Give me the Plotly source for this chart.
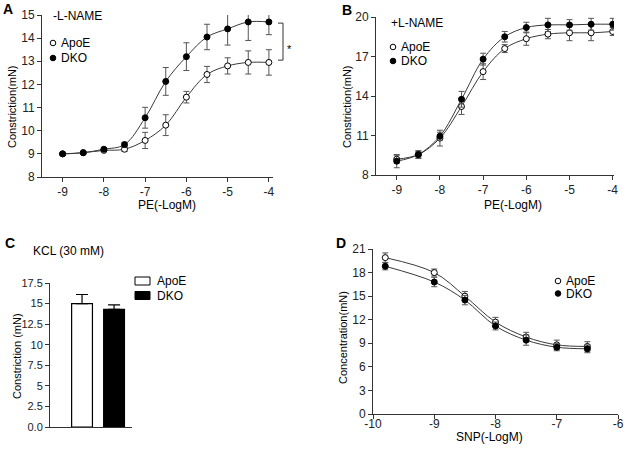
import plotly.graph_objects as go

# ---------------- data ----------------
pe_log = [-9, -8.5, -8, -7.5, -7, -6.5, -6, -5.5, -5, -4.5, -4]
pe_ticks = [-9, -8, -7, -6, -5, -4]

# A: -L-NAME
a_apoe = [9.0, 9.05, 9.15, 9.2, 9.58, 10.24, 11.45, 12.43, 12.8, 12.95, 12.95]
a_apoe_err = [0.05, 0.05, 0.05, 0.1, 0.35, 0.45, 0.25, 0.35, 0.35, 0.5, 0.55]
a_dko = [9.0, 9.05, 9.2, 9.4, 10.56, 12.13, 13.2, 14.05, 14.4, 14.7, 14.7]
a_dko_err = [0.05, 0.05, 0.05, 0.1, 0.45, 0.6, 0.6, 0.55, 0.7, 0.8, 0.55]

# B: +L-NAME
b_apoe = [9.2, 9.55, 10.8, 13.2, 15.85, 17.6, 18.35, 18.7, 18.8, 18.8, 18.9]
b_apoe_err = [0.3, 0.3, 0.6, 0.6, 0.6, 0.3, 0.5, 0.35, 0.6, 0.6, 0.3]
b_dko = [9.05, 9.55, 10.95, 13.75, 16.8, 18.5, 19.2, 19.4, 19.4, 19.45, 19.45]
b_dko_err = [0.5, 0.25, 0.3, 0.6, 0.45, 0.4, 0.4, 0.5, 0.4, 0.45, 0.45]

# C: KCL (30 mM)
kcl_groups = ["ApoE", "DKO"]
kcl_values = [15.0, 14.3]
kcl_err = [1.1, 0.55]
kcl_ticks = [0, 2.5, 5, 7.5, 10, 12.5, 15, 17.5]
kcl_ticktext = ["0.0", "2.5", "5", "7.5", "10", "12.5", "15", "17.5"]

# D: SNP
snp_log = [-9.8, -9, -8.5, -8, -7.5, -7, -6.5]
snp_ticks = [-10, -9, -8, -7, -6]
d_apoe = [19.9, 18.0, 15.0, 11.7, 9.8, 8.8, 8.6]
d_apoe_err = [0.6, 0.45, 0.6, 0.6, 0.6, 0.6, 0.6]
d_dko = [18.8, 16.8, 14.5, 11.2, 9.4, 8.5, 8.3]
d_dko_err = [0.45, 0.6, 0.6, 0.5, 0.65, 0.45, 0.5]

# significance bracket in A spans the two plateaus
bracket_top, bracket_bottom = 14.65, 13.05

# ---------------- layout helpers ----------------
W, H = 626, 453
FONT = "Arial, Liberation Sans, sans-serif"
AX = "#333333"
ERR = "#555555"


def fx(p):
    return p / W


def fy(p):
    return 1 - p / H


def hyphen(vals):
    # plain hyphen minus like the original, not the unicode minus
    return [("%g" % v) for v in vals]


fig = go.Figure()


def add_series(x, y, err, axis, filled, name):
    xa, ya = "x" + axis, "y" + axis
    # smooth line through the means
    fig.add_trace(go.Scatter(
        x=x, y=y, xaxis=xa, yaxis=ya, mode="lines",
        line=dict(color="#3a3a3a", width=1, shape="spline", smoothing=1.0),
        showlegend=False, hoverinfo="skip",
    ))
    fig.add_trace(go.Scatter(
        x=x, y=y, xaxis=xa, yaxis=ya, mode="markers", name=name,
        error_y=dict(type="data", array=err, visible=True, color=ERR,
                     thickness=1, width=3),
        marker=dict(size=6, color="black" if filled else "white",
                    line=dict(color="black", width=1)),
        showlegend=False,
    ))


add_series(pe_log, a_apoe, a_apoe_err, "", False, "ApoE")
add_series(pe_log, a_dko, a_dko_err, "", True, "DKO")
add_series(pe_log, b_apoe, b_apoe_err, "2", False, "ApoE")
add_series(pe_log, b_dko, b_dko_err, "2", True, "DKO")
add_series(snp_log, d_apoe, d_apoe_err, "4", False, "ApoE")
add_series(snp_log, d_dko, d_dko_err, "4", True, "DKO")

fig.add_trace(go.Bar(
    x=kcl_groups, y=kcl_values, xaxis="x3", yaxis="y3", width=0.65,
    marker=dict(color=["white", "black"], line=dict(color="black", width=1.2)),
    error_y=dict(type="data", array=kcl_err, visible=True, color="black",
                 thickness=1.2, width=6, symmetric=False, arrayminus=[0, 0]),
    showlegend=False,
))

axis_common = dict(
    showline=True, linecolor=AX, linewidth=1, ticks="outside", ticklen=4,
    tickcolor=AX, tickwidth=1, showgrid=False, zeroline=False, automargin=False,
    tickfont=dict(family=FONT, size=12, color="#222"),
)

layout = dict(
    width=W, height=H, margin=dict(l=0, r=0, t=0, b=0, autoexpand=False),
    paper_bgcolor="white", plot_bgcolor="white",
    font=dict(family=FONT, size=12, color="#222"),
    showlegend=False,
    # A
    xaxis=dict(axis_common, domain=[fx(42), fx(273)], range=[-9.5, -3.9],
               tickvals=pe_ticks, ticktext=hyphen(pe_ticks), anchor="y"),
    yaxis=dict(axis_common, domain=[fy(177), fy(15)], range=[8, 15],
               dtick=1, anchor="x"),
    # B
    xaxis2=dict(axis_common, domain=[fx(376), fx(614)], range=[-9.48, -3.97],
                tickvals=pe_ticks, ticktext=hyphen(pe_ticks), anchor="y2"),
    yaxis2=dict(axis_common, domain=[fy(175), fy(17)], range=[8, 20],
                tickvals=[8, 11, 14, 17, 20], anchor="x2"),
    # C
    xaxis3=dict(axis_common, domain=[fx(50), fx(132)], range=[-1.0, 1.56],
                ticks="", showticklabels=False, anchor="y3"),
    yaxis3=dict(axis_common, domain=[fy(427), fy(283)], range=[0, 17.5],
                tickvals=kcl_ticks, ticktext=kcl_ticktext,
                tickfont=dict(family=FONT, size=11, color="#222"), anchor="x3"),
    # D
    xaxis4=dict(axis_common, domain=[fx(373), fx(618)], range=[-10, -6],
                tickvals=snp_ticks, ticktext=hyphen(snp_ticks), anchor="y4",
                ticklabelstandoff=-5),
    yaxis4=dict(axis_common, domain=[fy(414), fy(249)], range=[0, 21],
                dtick=3, anchor="x4"),
)
fig.update_layout(**layout)

annotations = []
shapes = []


def text(x, y, s, size=12, bold=False, angle=0, xanchor="center"):
    annotations.append(dict(
        x=fx(x), y=fy(y), xref="paper", yref="paper", text=f"<b>{s}</b>" if bold else s,
        showarrow=False, textangle=angle, xanchor=xanchor, yanchor="middle",
        font=dict(family=FONT, size=size, color="black"),
    ))


# panel letters
text(1, 9, "A", 14, True, xanchor="left")
text(340, 10, "B", 14, True, xanchor="left")
text(3, 243, "C", 14, True, xanchor="left")
text(334, 243, "D", 14, True, xanchor="left")

# condition labels
text(51, 16, "-L-NAME", 12, xanchor="left")
text(389, 23, "+L-NAME", 12, xanchor="left")
text(31, 251, "KCL (30 mM)", 12, xanchor="left")

# axis titles
text(167, 205, "PE(-LogM)", 12)
text(513, 205, "PE(-LogM)", 12)
text(490, 437, "SNP(-LogM)", 12)
text(12, 107, "Constriction(mN)", 11, angle=-90)
text(347, 107, "Constriction(mN)", 11, angle=-90)
text(17, 356, "Constriction (mN)", 11, angle=-90)
text(343, 338, "Concentration(mN)", 11, angle=-90)


# legends drawn by hand to match the compact spacing
def circle_legend(cx, cy, gap, names):
    for i, name in enumerate(names):
        y = cy + i * gap
        shapes.append(dict(
            type="circle", xref="paper", yref="paper",
            x0=fx(cx - 2.8), x1=fx(cx + 2.8), y0=fy(y + 2.8), y1=fy(y - 2.8),
            line=dict(color="black", width=1),
            fillcolor="white" if i == 0 else "black",
        ))
        text(cx + 6, y, name, 12, xanchor="left")


circle_legend(53, 43, 15, ["ApoE", "DKO"])
circle_legend(393, 47, 14, ["ApoE", "DKO"])
circle_legend(558, 281, 12.5, ["ApoE", "DKO"])

for i, name in enumerate(kcl_groups):
    y = 281 + i * 14.5
    shapes.append(dict(
        type="rect", xref="paper", yref="paper",
        x0=fx(135), x1=fx(150), y0=fy(y + 4), y1=fy(y - 4),
        line=dict(color="black", width=1),
        fillcolor="white" if i == 0 else "black",
    ))
    text(155, y, name, 12, xanchor="left")

# significance bracket in A
for yv in (bracket_top, bracket_bottom):
    shapes.append(dict(type="line", xref="paper", yref="y",
                       x0=fx(278), x1=fx(283), y0=yv, y1=yv,
                       line=dict(color=AX, width=1)))
shapes.append(dict(type="line", xref="paper", yref="y",
                   x0=fx(283), x1=fx(283), y0=bracket_bottom, y1=bracket_top,
                   line=dict(color=AX, width=1)))
text(289, 49, "*", 11)

fig.update_layout(annotations=annotations, shapes=shapes)

# the page's default 8px body margin would push the figure off its canvas
fig.write_html("out.html", config={"displayModeBar": False},
               post_script="document.body.style.margin='0';")
